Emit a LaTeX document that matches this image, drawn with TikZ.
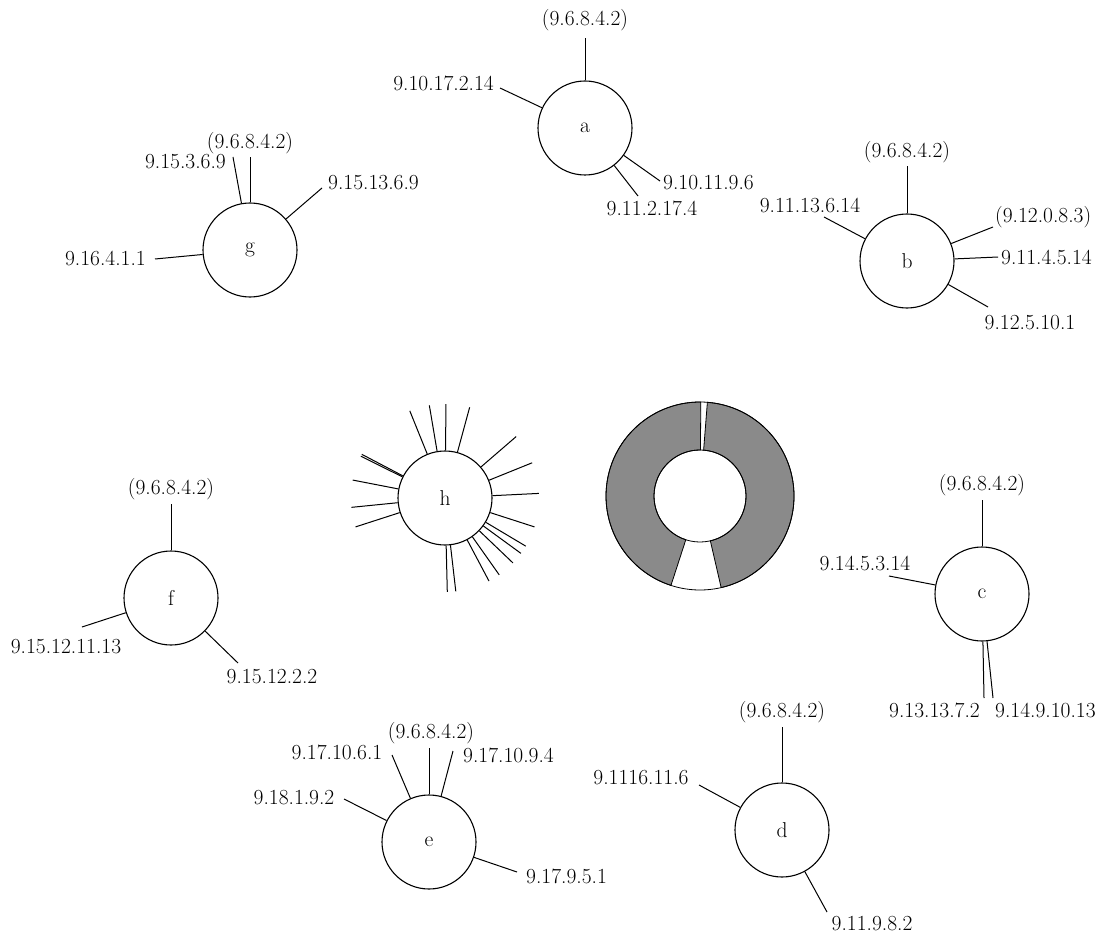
\documentclass[tikz,border=0pt]{standalone}
\usetikzlibrary{calc}
\definecolor{ringgray}{RGB}{138,138,138}
\tikzset{
  hub/.style={circle,draw,line width=1.1pt,minimum size=94pt,inner sep=0pt,font=\fontsize{21.5}{24}\selectfont},
  lbl/.style={inner sep=0pt,font=\fontsize{21.5}{24}\selectfont},
  spoke/.style={line width=1pt},
  ringpart/.style={fill=ringgray,draw=black,line width=0.8pt}
}
\begin{document}
\begin{tikzpicture}[x=1pt,y=-1pt]
\useasboundingbox (0,0) rectangle (1102,941);

% ---------- a ----------
\node[hub] (a) at (585,128) {a};
\node[lbl] (aL1) at (585,20) {(9.6.8.4.2)};
\node[lbl,anchor=east] (aL2) at (494,83) {9.10.17.2.14};
\node[lbl,anchor=west] (aL3) at (663,183) {9.10.11.9.6};
\node[lbl] (aL4) at (652,208) {9.11.2.17.4};
\coordinate (a1) at (585,38);
\coordinate (a2) at (500,88);
\coordinate (a3) at (660,181);
\coordinate (a4) at (638,196);
\foreach \e in {a1,a2,a3,a4} \draw[spoke] (a) -- (\e);

% ---------- g ----------
\node[hub] (g) at (250,250) {g};
\node[lbl] (gL1) at (250,143) {(9.6.8.4.2)};
\node[lbl,anchor=east] (gL2) at (226,162) {9.15.3.6.9};
\node[lbl,anchor=west] (gL3) at (328,183) {9.15.13.6.9};
\node[lbl,anchor=east] (gL4) at (146,258) {9.16.4.1.1};
\coordinate (g1) at (250,157);
\coordinate (g2) at (233,157);
\coordinate (g3) at (322,188);
\coordinate (g4) at (155,259);
\foreach \e in {g1,g2,g3,g4} \draw[spoke] (g) -- (\e);

% ---------- b ----------
\node[hub] (b) at (907,261) {b};
\node[lbl] (bL1) at (907,152) {(9.6.8.4.2)};
\node[lbl] (bL2) at (810,205) {9.11.13.6.14};
\node[lbl,anchor=west] (bL3) at (995,217) {(9.12.0.8.3)};
\node[lbl,anchor=west] (bL4) at (1001,257) {9.11.4.5.14};
\node[lbl] (bL5) at (1030,323) {9.12.5.10.1};
\coordinate (b1) at (907,166);
\coordinate (b2) at (824,217);
\coordinate (b3) at (993,227);
\coordinate (b4) at (998,257);
\coordinate (b5) at (988,307);
\foreach \e in {b1,b2,b3,b4,b5} \draw[spoke] (b) -- (\e);

% ---------- h ----------
\node[hub] (h) at (445,498) {h};
\foreach \ang [count=\i] in {112,99.6,89.4,74.8,40.8,22,2.8,-17.9,-30.8,-36.1,-43.7,-54.8,-62.1,-83.4,-88.6,152.3,153.6,169,185.7,197.9}{
  \path (h.center) ++(\ang:94pt) coordinate (hs\i);
  \draw[spoke] (h) -- (hs\i);
}

% ---------- ring ----------
\coordinate (ring) at (700,496);
\draw[ringpart] ($(ring)+(89.5:94pt)$) arc[start angle=89.5,end angle=252,radius=94pt]
  -- ($(ring)+(252:46pt)$) arc[start angle=252,end angle=89.5,radius=46pt] -- cycle;
\draw[ringpart] ($(ring)+(283:94pt)$) arc[start angle=283,end angle=445.5,radius=94pt]
  -- ($(ring)+(445.5:46pt)$) arc[start angle=445.5,end angle=283,radius=46pt] -- cycle;
\draw[line width=0.8pt] (ring) circle[radius=94pt];
\draw[line width=0.8pt] (ring) circle[radius=46pt];

% ---------- c ----------
\node[hub] (c) at (982,594) {c};
\node[lbl] (cL1) at (982,485) {(9.6.8.4.2)};
\node[lbl] (cL2) at (865,563) {9.14.5.3.14};
\node[lbl,anchor=east] (cL3) at (980,710) {9.13.13.7.2};
\node[lbl,anchor=west] (cL4) at (995,710) {9.14.9.10.13};
\coordinate (c1) at (982,500);
\coordinate (c2) at (889,576);
\coordinate (c3) at (984,698);
\coordinate (c4) at (993,698);
\foreach \e in {c1,c2,c3,c4} \draw[spoke] (c) -- (\e);

% ---------- f ----------
\node[hub] (f) at (171,598) {f};
\node[lbl] (fL1) at (171,489) {(9.6.8.4.2)};
\node[lbl] (fL2) at (66,647) {9.15.12.11.13};
\node[lbl] (fL3) at (272,677) {9.15.12.2.2};
\coordinate (f1) at (171,504);
\coordinate (f2) at (82,627);
\coordinate (f3) at (238,663);
\foreach \e in {f1,f2,f3} \draw[spoke] (f) -- (\e);

% ---------- e ----------
\node[hub] (e) at (429,842) {e};
\node[lbl] (eL1) at (431,733) {(9.6.8.4.2)};
\node[lbl] (eL2) at (337,752) {9.17.10.6.1};
\node[lbl,anchor=west] (eL3) at (463,755) {9.17.10.9.4};
\node[lbl] (eL4) at (294,798) {9.18.1.9.2};
\node[lbl,anchor=west] (eL5) at (526,876) {9.17.9.5.1};
\coordinate (e1) at (429,748);
\coordinate (e2) at (392,755);
\coordinate (e3) at (453,751);
\coordinate (e4) at (344,799);
\coordinate (e5) at (517,872);
\foreach \x in {e1,e2,e3,e4,e5} \draw[spoke] (e) -- (\x);

% ---------- d ----------
\node[hub] (d) at (782,830) {d};
\node[lbl] (dL1) at (782,712) {(9.6.8.4.2)};
\node[lbl] (dL2) at (641,778) {9.1116.11.6};
\node[lbl] (dL3) at (872,924) {9.11.9.8.2};
\coordinate (d1) at (782,727);
\coordinate (d2) at (699,785);
\coordinate (d3) at (827,912);
\foreach \x in {d1,d2,d3} \draw[spoke] (d) -- (\x);
\end{tikzpicture}
\end{document}
